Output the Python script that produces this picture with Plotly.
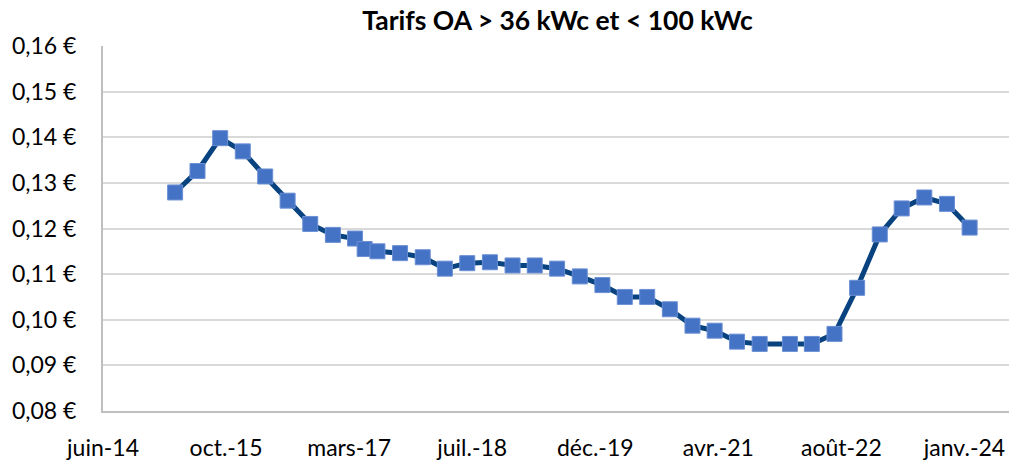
import pandas as pd
import plotly.graph_objects as go

# --- data ---
dates = [
    "2015-04-01", "2015-07-01", "2015-10-01", "2016-01-01", "2016-04-01",
    "2016-07-01", "2016-10-01", "2017-01-01", "2017-04-01", "2017-05-10",
    "2017-07-01", "2017-10-01", "2018-01-01", "2018-04-01", "2018-07-01",
    "2018-10-01", "2019-01-01", "2019-04-01", "2019-07-01", "2019-10-01",
    "2020-01-01", "2020-04-01", "2020-07-01", "2020-10-01", "2021-01-01",
    "2021-04-01", "2021-07-01", "2021-10-01", "2022-02-01", "2022-05-01",
    "2022-08-01", "2022-11-01", "2023-02-01", "2023-05-01", "2023-08-01",
    "2023-11-01", "2024-02-01",
]
tarifs = [
    0.1279, 0.1326, 0.1398, 0.1369, 0.1314,
    0.1261, 0.1210, 0.1186, 0.1178, 0.1155,
    0.1150, 0.1146, 0.1137, 0.1112, 0.1124,
    0.1126, 0.1119, 0.1119, 0.1112, 0.1095,
    0.1076, 0.1050, 0.1050, 0.1023, 0.0987,
    0.0976, 0.0952, 0.0947, 0.0947, 0.0947,
    0.0969, 0.1070, 0.1187, 0.1244, 0.1268,
    0.1254, 0.1202,
]
tick_labels = ["juin-14", "oct.-15", "mars-17", "juil.-18", "déc.-19",
               "avr.-21", "août-22", "janv.-24"]
axis_start = "2014-06-12"
axis_end = "2024-07-10"
tick_dates = pd.date_range(axis_start, periods=len(tick_labels), freq="500D")

title = "Tarifs OA > 36 kWc et < 100 kWc"

FONT = "Lato"

fig = go.Figure()
fig.add_trace(go.Scatter(
    x=pd.to_datetime(dates), y=tarifs,
    mode="lines+markers",
    line=dict(color="#08427F", width=5),
    marker=dict(symbol="square", size=15, color="#4472C4",
                line=dict(color="#6A8FD4", width=1)),
    showlegend=False,
    hoverinfo="x+y",
))

fig.update_layout(
    width=1009, height=461,
    margin=dict(l=103, r=0, t=46, b=47),
    paper_bgcolor="white", plot_bgcolor="white",
    separators=", ",
    font=dict(family=FONT, color="#000000", size=23),
    title=dict(text="<b>" + title + "</b>", x=557.5 / 1009, xref="container",
               xanchor="center", y=1 - 21 / 461, yref="container",
               yanchor="middle", font=dict(family=FONT, size=26.5, color="#000000")),
)
fig.update_xaxes(
    type="date", range=[axis_start, axis_end],
    tickmode="array", tickvals=tick_dates, ticktext=tick_labels,
    showgrid=False, zeroline=False,
    showline=True, linecolor="#BFBFBF", linewidth=2,
    ticks="", ticklabelstandoff=15,
    tickfont=dict(family=FONT, size=23, color="#000000"),
)
fig.update_yaxes(
    range=[0.08, 0.16], dtick=0.01, tick0=0.08,
    tickformat=".2f", ticksuffix=" €",
    showgrid=True, gridcolor="#D9D9D9", gridwidth=1.5,
    zeroline=False,
    showline=True, linecolor="#BFBFBF", linewidth=2, mirror=False,
    ticks="", ticklabelstandoff=20,
    tickfont=dict(family=FONT, size=23, color="#000000"),
)

fig.write_html("out.html",
               config={"displayModeBar": False},
               post_script="document.body.style.margin='0';document.body.style.overflow='hidden';")
